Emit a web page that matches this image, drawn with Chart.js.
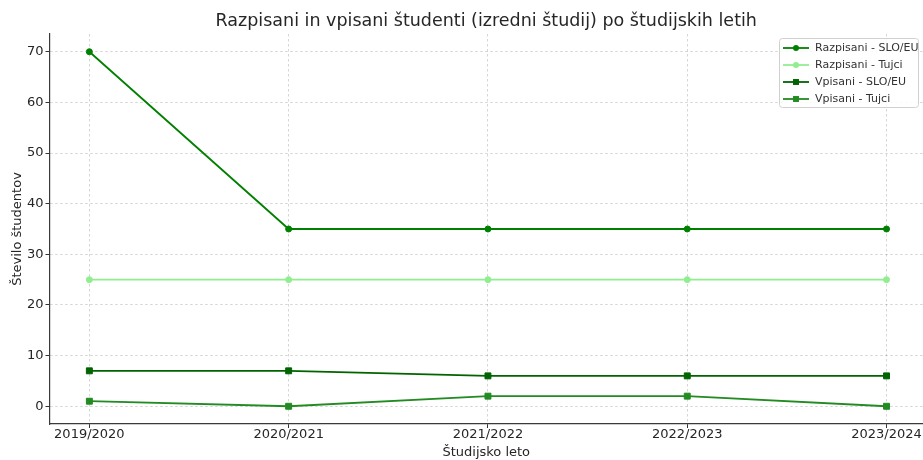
<!DOCTYPE html>
<html>
<head>
<meta charset="utf-8">
<script src="https://cdn.jsdelivr.net/npm/chart.js@4.4.1/dist/chart.umd.min.js"></script>
<style>
  body { margin: 0; background: #fff; overflow: hidden; }
  canvas { display: block; }
</style>
</head>
<body>
<canvas id="studentChart" width="923" height="460"></canvas>
<script>
// Data
const years = ['2019/2020', '2020/2021', '2021/2022', '2022/2023', '2023/2024'];
const razpisaniSlo = [70, 35, 35, 35, 35];
const razpisaniTujci = [25, 25, 25, 25, 25];
const vpisaniSlo = [7, 7, 6, 6, 6];
const vpisaniTujci = [1, 0, 2, 2, 0];
const yTicks = [0, 10, 20, 30, 40, 50, 60, 70];

const chartTitle = 'Razpisani in vpisani študenti (izredni študij) po študijskih letih';
const font = "'DejaVu Sans', sans-serif";

function toPoints(values) {
    return values.map((v, i) => ({ x: i, y: v }));
}

function makeSeries(label, values, color, style, radius) {
    return {
        label: label,
        data: toPoints(values),
        borderColor: color,
        backgroundColor: color,
        borderWidth: 1.8,
        pointStyle: style,
        pointRadius: radius,
        pointHoverRadius: radius,
        pointBorderWidth: 1,
        tension: 0,
        clip: false
    };
}

// Title centred over the plot area
const titlePlugin = {
    id: 'plotTitle',
    afterDraw(chart) {
        const ctx = chart.ctx;
        const area = chart.chartArea;
        ctx.save();
        ctx.font = '17.5px ' + font;
        ctx.fillStyle = '#262626';
        ctx.textAlign = 'center';
        ctx.textBaseline = 'middle';
        ctx.fillText(chartTitle, (area.left + area.right) / 2, 21);
        ctx.restore();
    }
};

// Matplotlib-like legend box in the upper right
const legendPlugin = {
    id: 'boxLegend',
    afterDatasetsDraw(chart) {
        const ctx = chart.ctx;
        const x0 = 779, y0 = 38, w = 139, h = 69;
        ctx.save();
        ctx.fillStyle = 'rgba(255,255,255,0.85)';
        ctx.strokeStyle = '#d0d0d0';
        ctx.lineWidth = 1;
        ctx.beginPath();
        ctx.roundRect(x0 + 0.5, y0 + 0.5, w, h, 3);
        ctx.fill();
        ctx.stroke();
        ctx.font = '11px ' + font;
        ctx.textBaseline = 'middle';
        chart.data.datasets.forEach((ds, i) => {
            const y = y0 + 10 + i * 17;
            ctx.strokeStyle = ds.borderColor;
            ctx.lineWidth = 1.8;
            ctx.beginPath();
            ctx.moveTo(x0 + 4, y);
            ctx.lineTo(x0 + 30, y);
            ctx.stroke();
            ctx.fillStyle = ds.borderColor;
            Chart.helpers.drawPoint(ctx, { pointStyle: ds.pointStyle, radius: ds.pointRadius, rotation: 0, borderWidth: 0 }, x0 + 17, y);
            ctx.fillStyle = '#333';
            ctx.fillText(ds.label, x0 + 36, y + 0.5);
        });
        ctx.restore();
    }
};

const gridStyle = {
    color: 'rgba(0,0,0,0.16)',
    tickColor: '#333',
    tickLength: 4,
    tickBorderDash: []
};
const borderStyle = { display: true, color: '#3a3a3a', width: 1.2, dash: [2.5, 2.5] };

const ctx = document.getElementById('studentChart').getContext('2d');
const studentChart = new Chart(ctx, {
    type: 'line',
    data: {
        datasets: [
            makeSeries('Razpisani - SLO/EU', razpisaniSlo, '#008000', 'circle', 3),
            makeSeries('Razpisani - Tujci', razpisaniTujci, '#90ee90', 'circle', 3),
            makeSeries('Vpisani - SLO/EU', vpisaniSlo, '#006400', 'rect', 4.2),
            makeSeries('Vpisani - Tujci', vpisaniTujci, '#228b22', 'rect', 4.2)
        ]
    },
    options: {
        responsive: false,
        animation: false,
        layout: {
            autoPadding: false,
            padding: { top: 34, right: 0, bottom: 0, left: 0 }
        },
        plugins: {
            legend: { display: false },
            title: { display: false },
            tooltip: { enabled: false }
        },
        scales: {
            x: {
                type: 'linear',
                min: -0.2,
                max: 4.183,
                afterBuildTicks: function(scale) {
                    scale.ticks = years.map((_, i) => ({ value: i }));
                },
                afterFit: function(scale) {
                    scale.height = 36;
                    scale.paddingLeft = 0;
                    scale.paddingRight = 0;
                },
                ticks: {
                    autoSkip: false,
                    maxRotation: 0,
                    padding: -1,
                    color: '#262626',
                    font: { family: font, size: 13 },
                    callback: function(value) {
                        return years[value];
                    }
                },
                grid: gridStyle,
                border: borderStyle,
                title: {
                    display: true,
                    text: 'Študijsko leto',
                    color: '#262626',
                    font: { family: font, size: 13 },
                    padding: { top: 0, bottom: 0 }
                }
            },
            y: {
                min: -3.5,
                max: 73.5,
                afterBuildTicks: function(scale) {
                    scale.ticks = yTicks.map(v => ({ value: v }));
                },
                afterFit: function(scale) {
                    scale.width = 49.5;
                    scale.paddingTop = 0;
                    scale.paddingBottom = 0;
                },
                ticks: {
                    padding: 2,
                    color: '#262626',
                    font: { family: font, size: 13 }
                },
                grid: gridStyle,
                border: borderStyle,
                title: {
                    display: true,
                    text: 'Število študentov',
                    color: '#262626',
                    font: { family: font, size: 13 },
                    padding: { top: 10, bottom: 0 }
                }
            }
        }
    },
    plugins: [titlePlugin, legendPlugin]
});
</script>
</body>
</html>
